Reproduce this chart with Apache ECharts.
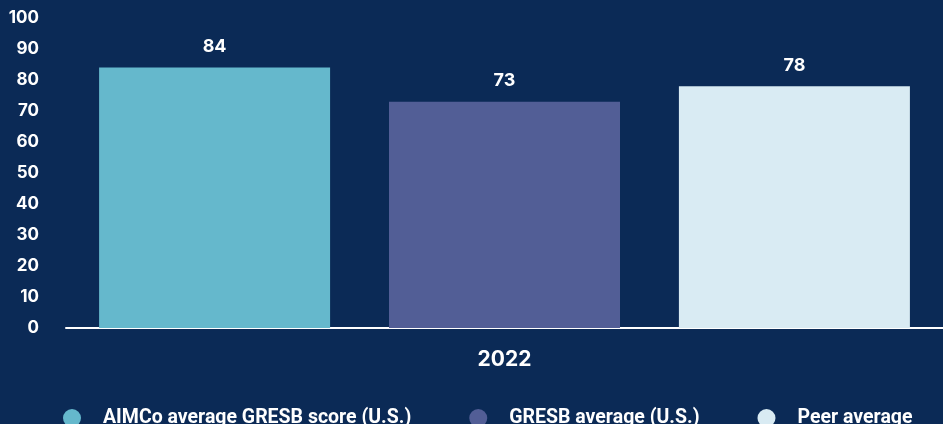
<!doctype html>
<html>
<head>
<meta charset="UTF-8">
<title></title>
<script src="https://cdn.jsdelivr.net/npm/echarts@6/dist/echarts.min.js"></script>
<style>
html,body{margin:0;padding:0;background:#0b2a56;}
#main{width:943px;height:424px;}
</style>
</head>
<body>
<div id="main"></div>
<script>
var years = ['2022'];
var seriesNames = ['AIMCo average GRESB score (U.S.)', 'GRESB average (U.S.)', 'Peer average'];
var aimco = [84];
var gresb = [73];
var peer = [78];
var colors = ['#65b8cc', '#525e96', '#d9ebf3'];

var chart = echarts.init(document.getElementById('main'));
var lbl = {show: true, position: 'top', distance: 12, color: '#ffffff', fontSize: 18, fontWeight: 'bold', fontFamily: 'Inter'};
function mk(name, data, c) {
	return {name: name, type: 'bar', data: data, barWidth: 231, barGap: '25.5%', itemStyle: {color: c}, label: lbl};
}
chart.setOption({
	backgroundColor: '#0b2a56',
	animation: false,
	color: colors,
	grid: {left: 66, right: 0, top: 18, bottom: 96},
	legend: {
		top: 403, left: 58, itemWidth: 52, itemHeight: 18, itemGap: 58, icon: 'circle',
		textStyle: {color: '#ffffff', fontSize: 19.5, fontWeight: 'bold', fontFamily: 'Roboto'},
		data: seriesNames
	},
	xAxis: {
		type: 'category', data: years,
		axisLine: {lineStyle: {color: '#ffffff', width: 2}},
		axisTick: {show: false},
		axisLabel: {color: '#ffffff', fontSize: 21, fontWeight: 'bold', fontFamily: 'Inter', margin: 21}
	},
	yAxis: {
		type: 'value', min: 0, max: 100, interval: 10,
		splitLine: {show: false},
		axisLabel: {color: '#ffffff', fontSize: 17, fontWeight: 'bold', fontFamily: 'Inter', margin: 27}
	},
	series: [
		mk(seriesNames[0], aimco, colors[0]),
		mk(seriesNames[1], gresb, colors[1]),
		mk(seriesNames[2], peer, colors[2])
	]
});
</script>
</body>
</html>
